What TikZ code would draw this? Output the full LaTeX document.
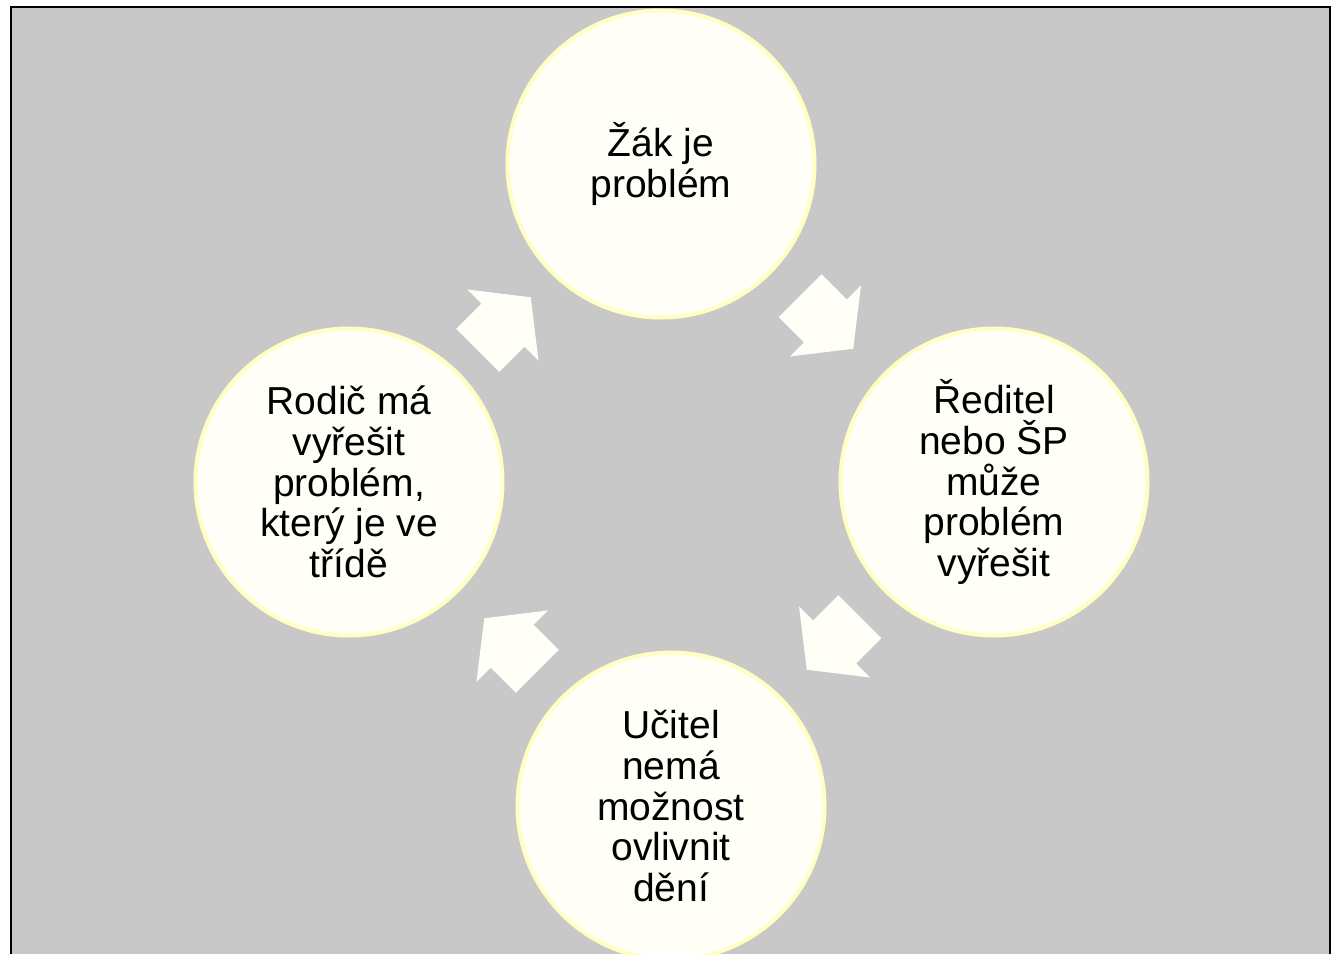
\documentclass[tikz,border=0pt]{standalone}
\usepackage{fontspec}
\setmainfont{Liberation Sans}
\usetikzlibrary{shapes.arrows,calc}

\definecolor{bggray}{RGB}{200,200,200}
\definecolor{cream}{RGB}{255,255,247}
\definecolor{paleyellow}{RGB}{255,255,196}

\begin{document}
\begin{tikzpicture}[x=0.5pt,y=-0.5pt]
  \tikzstyle{stage}=[circle,fill=cream,draw=paleyellow,line width=2pt,
    minimum size=153.5pt,inner sep=0pt,align=center,
    font=\fontsize{19.5}{20.4}\selectfont]
  \tikzstyle{cycarrow}=[single arrow,fill=cream,inner xsep=0pt,inner ysep=15pt,
    minimum height=37.5pt,single arrow head extend=10pt,
    single arrow tip angle=104]

  \useasboundingbox (0,0) rectangle (1334,954);
  \fill[bggray] (12,7) rectangle (1330,954);
  \draw[line width=1pt] (11,954) -- (11,7) -- (1330,7) -- (1330,954);

  \node[stage] (zak)     at (661,164) {Žák je\\problém};
  \node[stage] (reditel) at (994,482) {Ředitel\\nebo ŠP\\může\\problém\\vyřešit};
  \node[stage] (ucitel)  at (671,806) {Učitel\\nemá\\možnost\\ovlivnit\\dění};
  \node[stage] (rodic)   at (349,482) {Rodič má\\vyřešit\\problém,\\který je ve\\třídě};

  % block arrows between the stages
  \node[cycarrow,rotate=-45,xshift=-6.5pt]  (zr) at ($(zak)!0.5!(reditel)$) {};
  \node[cycarrow,rotate=-135,xshift=-6.5pt] (ru) at ($(reditel)!0.5!(ucitel)$) {};
  \node[cycarrow,rotate=135,xshift=-6.5pt]  (ur) at ($(ucitel)!0.5!(rodic)$) {};
  \node[cycarrow,rotate=45,xshift=-6.5pt]   (rz) at ($(rodic)!0.5!(zak)$) {};
\end{tikzpicture}
\end{document}
